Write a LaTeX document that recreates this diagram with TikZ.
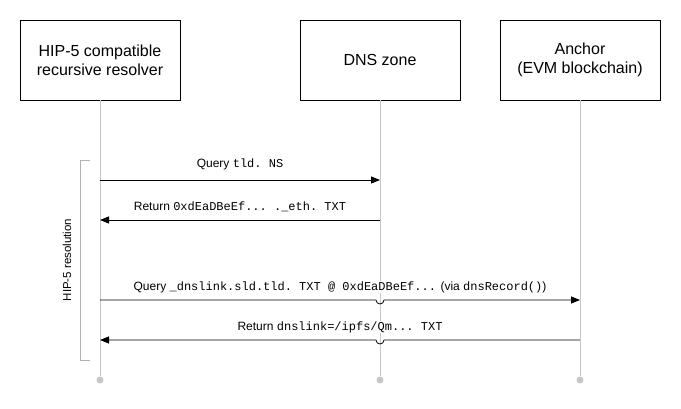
\documentclass[tikz,border=0pt]{standalone}
\usepackage{fontspec}
\setmainfont{Liberation Sans}
\setmonofont{Liberation Mono}
\usetikzlibrary{arrows.meta}
\begin{document}
\begin{tikzpicture}[x=1pt,y=-1pt,
  actor/.style={draw=black,line width=0.8pt,minimum width=160pt,minimum height=80pt,align=center,font=\fontsize{16}{19}\selectfont,inner sep=0pt,fill=white},
  life/.style={draw=black!22,line width=1pt},
  enddot/.style={circle,fill=black!22,inner sep=0pt,minimum size=7pt},
  msg/.style={line width=0.8pt,-{Triangle[length=9pt,width=7pt]}},
  lbl/.style={font=\fontsize{12}{14}\selectfont,inner sep=0pt,fill=white},
  jump/.style={line width=0.8pt}
]
\useasboundingbox (0,0) rectangle (681,409);
\node[actor] (A) at (100,60) {HIP-5 compatible\\recursive resolver};
\node[actor] (B) at (380,60) {DNS zone};
\node[actor] (C) at (580,60) {Anchor\\(EVM blockchain)};
\node[enddot] (Ae) at (100,380) {};
\node[enddot] (Be) at (380,380) {};
\node[enddot] (Ce) at (580,380) {};
\draw[life] (A.south) -- (Ae);
\draw[life] (B.south) -- (Be);
\draw[life] (C.south) -- (Ce);
% bracket
\draw[draw=black!30,line width=0.8pt] (90,160) -- (80,160) -- (80,360) -- (90,360);
\node[rotate=90,font=\fontsize{11.5}{13}\selectfont] (F) at (67,260) {HIP-5 resolution};
% messages
\coordinate (m1a) at (A.south |- 0,180);
\coordinate (m1b) at (B.south |- 0,180);
\draw[msg] (m1a) -- (m1b);
\node[lbl] (l1) at (240,164) {Query \texttt{tld. NS}};
\coordinate (m2a) at (B.south |- 0,220);
\coordinate (m2b) at (A.south |- 0,220);
\draw[msg] (m2a) -- (m2b);
\node[lbl] (l2) at (240,207) {Return \texttt{0xdEaDBeEf... .\_eth. TXT}};
\coordinate (m3a) at (A.south |- 0,300);
\coordinate (m3b) at (C.south |- 0,300);
\draw[msg] (m3a) -- (376,300) arc[start angle=180,end angle=0,radius=4] -- (m3b);
\node[lbl] (l3) at (340,287) {Query \texttt{\_dnslink.sld.tld. TXT @ 0xdEaDBeEf...} (via \texttt{dnsRecord()})};
\coordinate (m4a) at (C.south |- 0,340);
\coordinate (m4b) at (A.south |- 0,340);
\draw[msg] (m4a) -- (384,340) arc[start angle=0,end angle=180,radius=4] -- (m4b);
\node[lbl] (l4) at (340,327) {Return \texttt{dnslink=/ipfs/Qm... TXT}};
\end{tikzpicture}
\end{document}
